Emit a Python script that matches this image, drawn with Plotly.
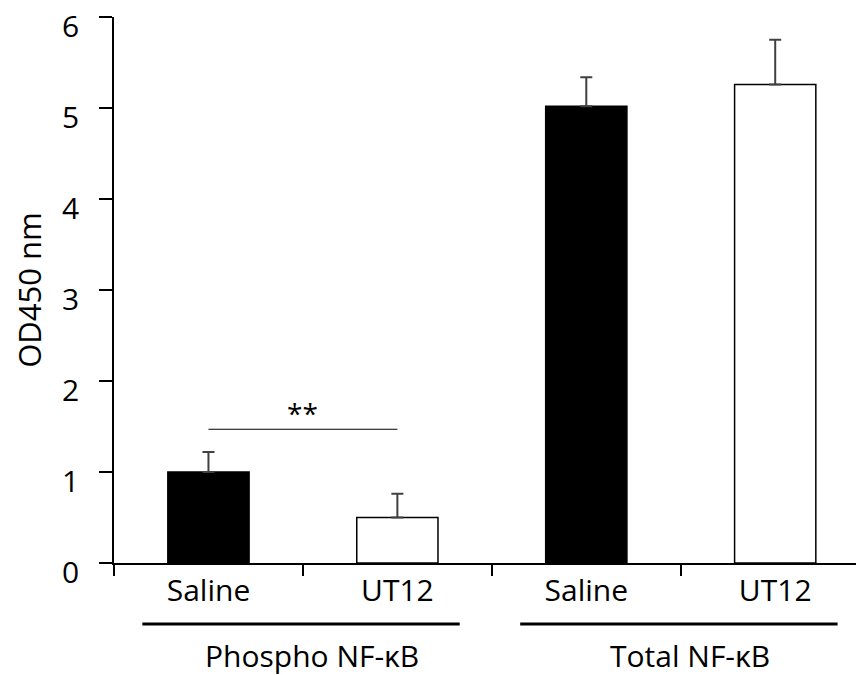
import plotly.graph_objects as go

groups = ["Phospho NF-κB", "Phospho NF-κB", "Total NF-κB", "Total NF-κB"]
treatments = ["Saline", "UT12", "Saline", "UT12"]
values = [1.0, 0.5, 5.02, 5.26]
errors_plus = [0.22, 0.26, 0.32, 0.49]
fill_colors = ["black", "white", "black", "white"]
y_ticks = [0, 1, 2, 3, 4, 5, 6]
sig_pair = ("Phospho NF-κB|Saline", "Phospho NF-κB|UT12")
sig_height = 1.47
sig_label = "**"
group_names = ["Phospho NF-κB", "Total NF-κB"]

cats = [f"{g}|{t}" for g, t in zip(groups, treatments)]
FONT = "Open Sans"

fig = go.Figure()
fig.add_trace(go.Bar(
    x=cats, y=values,
    width=0.43,
    marker=dict(color=fill_colors, line=dict(color="black", width=1.5)),
    error_y=dict(type="data", symmetric=False, array=errors_plus,
                 arrayminus=[0] * len(values), color="#404040",
                 thickness=2, width=6),
    showlegend=False,
))

# significance line
i0, i1 = cats.index(sig_pair[0]), cats.index(sig_pair[1])
fig.add_shape(type="line", xref="x", yref="y", x0=i0, x1=i1,
              y0=sig_height, y1=sig_height, line=dict(color="black", width=1.2))
fig.add_annotation(x=(i0 + i1) / 2, y=sig_height, xref="x", yref="y",
                   text=sig_label, showarrow=False, yanchor="bottom", yshift=-5,
                   font=dict(family=FONT, size=28, color="black"))

# group underlines and labels
for g in group_names:
    idx = [i for i, gg in enumerate(groups) if gg == g]
    lo, hi = min(idx), max(idx)
    fig.add_shape(type="line", xref="x", yref="paper",
                  x0=lo - 0.35, x1=hi + 0.33, y0=-0.1117, y1=-0.1117,
                  line=dict(color="black", width=3))
    fig.add_annotation(x=(lo + hi) / 2 + 0.05, y=-0.1685, xref="x", yref="paper",
                       text=g, showarrow=False, yanchor="middle",
                       font=dict(family=FONT, size=30, color="black"))

# page places the figure 8px in from the top-left corner
fig.update_layout(
    width=856, height=667,
    margin=dict(l=106, r=0, t=9, b=112, autoexpand=False),
    plot_bgcolor="white", paper_bgcolor="white",
    font=dict(family=FONT, size=30, color="black"),
)
fig.update_xaxes(
    type="category",
    categoryorder="array", categoryarray=cats,
    tickmode="array", tickvals=cats, ticktext=treatments,
    tickson="boundaries",
    range=[-0.5, 3.47],
    automargin=False,
    showline=True, linecolor="black", linewidth=1.5,
    ticks="outside", ticklen=11, tickwidth=1.5, tickcolor="black",
    showgrid=False, zeroline=False,
    tickfont=dict(family=FONT, size=30, color="black"),
)
fig.update_yaxes(
    range=[0, 6.001],
    tickvals=y_ticks,
    automargin=False,
    ticklabeloverflow="allow",
    ticklabelshift=9,
    ticklabelstandoff=14,
    showline=True, linecolor="black", linewidth=1.5,
    ticks="outside", ticklen=13, tickwidth=1.5, tickcolor="black",
    showgrid=False, zeroline=False,
    tickfont=dict(family=FONT, size=30, color="black"),
    title=dict(text="OD450 nm", font=dict(family=FONT, size=31, color="black"), standoff=22),
)

fig.write_html("out.html")
